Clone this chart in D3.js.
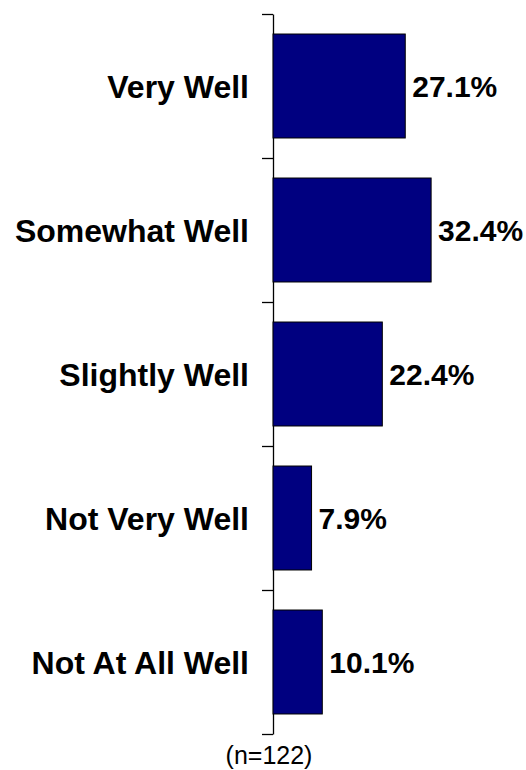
<!DOCTYPE html>
<html>
<head>
<meta charset="utf-8">
<script src="https://cdn.jsdelivr.net/npm/d3@7"></script>
<style>
  html, body { margin: 0; padding: 0; background: #fff; }
  svg { display: block; }
  text { font-family: "Liberation Sans", Arial, sans-serif; }
</style>
</head>
<body>
<svg id="chart" width="526" height="770"></svg>
<script>
const categories = ["Very Well", "Somewhat Well", "Slightly Well", "Not Very Well", "Not At All Well"];
const values = [27.1, 32.4, 22.4, 7.9, 10.1];
const valueLabels = ["27.1%", "32.4%", "22.4%", "7.9%", "10.1%"];
const note = "(n=122)";

(function () {
const svg = d3.select("#chart");
const axisX = 273, plotTop = 14, plotBottom = 734;

const y = d3.scaleBand().domain(categories).range([plotTop, plotBottom]).paddingInner(0.278).paddingOuter(0.139);
const x = d3.scaleLinear().domain([0, 50]).range([axisX, 517]);

// axis with ticks at category boundaries
const bnd = d3.scaleLinear().domain([0, categories.length]).range([plotTop, plotBottom]);
const axis = svg.append("g").attr("transform", `translate(${axisX},0)`)
  .call(d3.axisLeft(bnd).ticks(5).tickSize(11).tickSizeOuter(0).tickFormat(""));
axis.select(".domain").attr("stroke", "#000").attr("stroke-width", 1.3);
axis.selectAll(".tick line").attr("stroke", "#000").attr("stroke-width", 1.3);

svg.append("g").selectAll("rect").data(categories).join("rect")
  .attr("x", x(0))
  .attr("y", d => y(d))
  .attr("width", (d, i) => x(values[i]) - x(0))
  .attr("height", y.bandwidth())
  .attr("fill", "#000080")
  .attr("stroke", "#000")
  .attr("stroke-width", 1);

svg.append("g").selectAll("text").data(categories).join("text")
  .attr("x", (d, i) => x(values[i]) + 7)
  .attr("y", d => y(d) + y.bandwidth() / 2)
  .attr("dy", "0.36em")
  .attr("font-size", 30)
  .attr("font-weight", "bold")
  .attr("fill", "#000")
  .text((d, i) => valueLabels[i]);

svg.append("g").selectAll("text").data(categories).join("text")
  .attr("x", 249)
  .attr("y", d => y(d) + y.bandwidth() / 2)
  .attr("dy", "0.36em")
  .attr("text-anchor", "end")
  .attr("font-size", 32)
  .attr("font-weight", "bold")
  .attr("fill", "#000")
  .text(d => d);

svg.append("text")
  .attr("x", 269)
  .attr("y", 764)
  .attr("text-anchor", "middle")
  .attr("font-size", 25)
  .attr("fill", "#000")
  .text(note);
})();
</script>
</body>
</html>
